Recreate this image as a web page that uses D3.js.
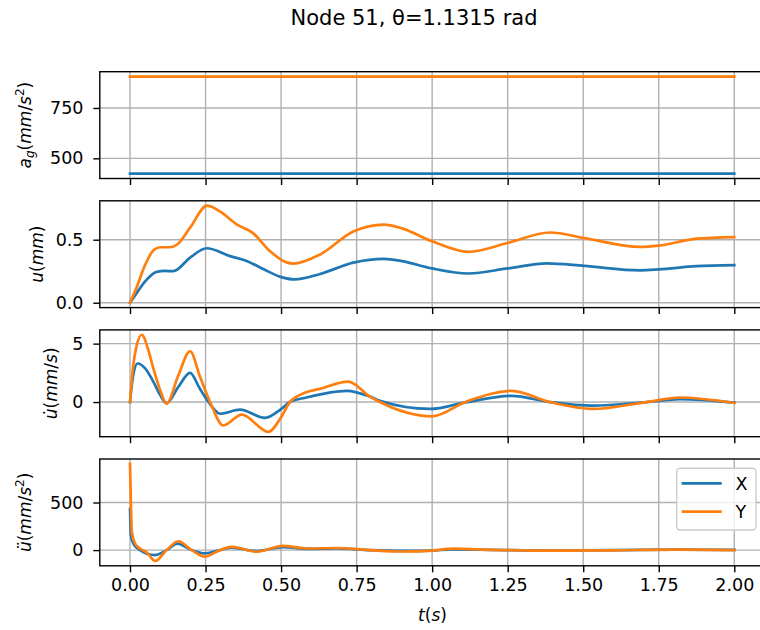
<!DOCTYPE html>
<html lang="en">
<head>
<meta charset="UTF-8" />
<title>Node 51</title>
<style>
  body { margin: 0; background: #fff; }
  svg text { font-family: "DejaVu Sans", sans-serif; fill: #000; }
</style>
</head>
<body>
<div id="chart"></div>
<script src="https://d3js.org/d3.v7.min.js"></script>
<script>
// ---- data (t in s, value) ----
const xTicks = [0, 0.25, 0.5, 0.75, 1.0, 1.25, 1.5, 1.75, 2.0];
const seriesNames = ["X", "Y"];

// ground acceleration a_g (mm/s^2)
const agX = [[0, 424], [2, 424]];
const agY = [[0, 906], [2, 906]];
const agTicks = [500, 750];

// displacement u (mm)
const uX = [[0,0],[0.02,0.07],[0.05,0.17],[0.088,0.245],[0.115,0.252],[0.143,0.25],[0.2,0.36],[0.254,0.432],
  [0.331,0.37],[0.386,0.332],[0.441,0.267],[0.496,0.207],[0.545,0.185],[0.629,0.228],[0.739,0.318],[0.84,0.348],
  [0.9,0.33],[1.0,0.272],[1.12,0.232],[1.25,0.272],[1.38,0.312],[1.503,0.292],[1.688,0.257],[1.75,0.264],
  [1.875,0.29],[2.0,0.298]];
const uY = [[0,0],[0.02,0.11],[0.05,0.3],[0.077,0.415],[0.099,0.44],[0.132,0.44],[0.155,0.46],[0.2,0.6],
  [0.255,0.77],[0.3,0.72],[0.353,0.622],[0.408,0.55],[0.463,0.41],[0.518,0.32],[0.54,0.311],[0.629,0.383],
  [0.739,0.565],[0.84,0.62],[0.9,0.59],[1.0,0.487],[1.12,0.404],[1.25,0.474],[1.39,0.557],[1.503,0.513],
  [1.688,0.443],[1.75,0.453],[1.875,0.508],[2.0,0.521]];
const uTicks = [0, 0.5];

// velocity u' (mm/s)
const vX = [[0,0],[0.01,2.2],[0.025,3.3],[0.05,2.88],[0.077,1.75],[0.1,0.6],[0.121,-0.1],[0.16,1.3],[0.199,2.5],
  [0.23,1.2],[0.26,0],[0.298,-1.0],[0.364,-0.65],[0.447,-1.36],[0.5,-0.6],[0.529,0],[0.584,0.39],[0.717,0.96],
  [0.794,0.47],[0.827,0.11],[0.993,-0.59],[1.114,0],[1.263,0.53],[1.39,0],[1.533,-0.31],[1.71,0],[1.82,0.25],
  [2.0,-0.05]];
const vY = [[0,0],[0.01,3.0],[0.02,4.6],[0.039,5.76],[0.06,4.5],[0.077,2.9],[0.1,1.0],[0.121,-0.14],[0.16,2.3],
  [0.199,4.35],[0.23,2.3],[0.265,0],[0.309,-2.0],[0.37,-1.08],[0.458,-2.55],[0.5,-1.3],[0.529,0],[0.568,0.68],
  [0.629,1.13],[0.722,1.75],[0.794,0.47],[0.827,0],[1.0,-1.22],[1.114,0.05],[1.263,0.96],[1.39,0],[1.533,-0.59],
  [1.71,0],[1.82,0.39],[2.0,-0.08]];
const vTicks = [0, 5];

// acceleration u'' (mm/s^2)
const aX = [[0,431],[0.003,155],[0.011,69],[0.033,0],[0.083,-52],[0.121,0],[0.157,69],[0.204,0],[0.248,-34],
  [0.29,-5],[0.336,25],[0.419,-10],[0.507,32],[0.585,12],[0.684,18],[0.794,0],[0.9,-8],[1.0,-6],[1.06,8],
  [1.2,3],[1.4,-4],[1.6,0],[1.8,4],[2.0,2]];
const aY = [[0,906],[0.003,466],[0.006,190],[0.017,69],[0.033,17],[0.055,-24],[0.083,-114],[0.121,0],[0.16,93],
  [0.204,0],[0.248,-69],[0.287,-17],[0.336,34],[0.419,-17],[0.507,45],[0.585,17],[0.684,22],[0.794,0],[0.9,-15],
  [1.0,-5],[1.07,15],[1.2,3],[1.4,-6],[1.6,-2],[1.8,5],[2.0,0]];
const aTicks = [0, 500];

// ---- layout ----
const W = 760, H = 630;
const left = 99.8, right = 764.5;
const tops = [71.7, 200.8, 329.9, 459];
const ph = 106.8;
const colors = ["#1f77b4", "#ff7f0e"];
const fs = 17.5;

const svg = d3.select("#chart").append("svg")
  .attr("width", W).attr("height", H);

svg.append("text")
  .attr("x", 414).attr("y", 24.5)
  .attr("text-anchor", "middle")
  .style("font-size", "21px")
  .text("Node 51, \u03b8=1.1315 rad");

const x = d3.scaleLinear().domain([-0.1, 2.1]).range([left, right]);

const panels = [
  { series: [agX, agY], ticks: agTicks, fmt: d3.format("d"), lx: 30.5 },
  { series: [uX, uY], ticks: uTicks, fmt: d3.format(".1f"), lx: 42.7 },
  { series: [vX, vY], ticks: vTicks, fmt: d3.format("d"), lx: 57 },
  { series: [aX, aY], ticks: aTicks, fmt: d3.format("d"), lx: 31 }
];

panels.forEach(function (p, i) {
  const top = tops[i], bot = top + ph;
  const all = p.series[0].concat(p.series[1]).map(d => d[1]);
  const lo = d3.min(all), hi = d3.max(all);
  const pad = (hi - lo) * 0.05;
  const y = d3.scaleLinear().domain([lo - pad, hi + pad]).range([bot, top]);

  const g = svg.append("g");

  // grid
  g.selectAll(".gx").data(xTicks).enter().append("line")
    .attr("x1", d => x(d)).attr("x2", d => x(d))
    .attr("y1", top).attr("y2", bot)
    .attr("stroke", "#b0b0b0").attr("stroke-width", 1.4);
  g.selectAll(".gy").data(p.ticks).enter().append("line")
    .attr("x1", left).attr("x2", right)
    .attr("y1", d => y(d)).attr("y2", d => y(d))
    .attr("stroke", "#b0b0b0").attr("stroke-width", 1.4);

  // lines
  const line = d3.line()
    .x(d => x(d[0])).y(d => y(d[1]))
    .curve(d3.curveMonotoneX);
  p.series.forEach(function (s, k) {
    g.append("path").datum(s)
      .attr("d", line)
      .attr("fill", "none")
      .attr("stroke", colors[k])
      .attr("stroke-width", 2.7)
      .attr("stroke-linecap", "square")
      .attr("stroke-linejoin", "round");
  });

  // axes
  const ax = g.append("g").attr("transform", "translate(0," + bot + ")")
    .call(d3.axisBottom(x).tickValues(xTicks).tickSize(6.5).tickPadding(6.5)
      .tickFormat(i === 3 ? d3.format(".2f") : () => ""));
  const ay = g.append("g").attr("transform", "translate(" + left + ",0)")
    .call(d3.axisLeft(y).tickValues(p.ticks).tickSize(6.5).tickPadding(9.8).tickFormat(p.fmt));
  [ax, ay].forEach(a => {
    a.select(".domain").remove();
    a.selectAll("line").attr("stroke", "#000").attr("stroke-width", 1.4);
    a.selectAll("text").style("font-size", fs + "px").attr("fill", "#000")
      .style("font-family", "DejaVu Sans, sans-serif");
  });

  // frame
  g.append("rect")
    .attr("x", left).attr("y", top)
    .attr("width", right - left).attr("height", ph)
    .attr("fill", "none").attr("stroke", "#000").attr("stroke-width", 1.4);

  // y label
  const lab = g.append("text")
    .attr("transform", "translate(" + p.lx + "," + (top + ph / 2) + ") rotate(-90)")
    .attr("text-anchor", "middle")
    .style("font-size", "17px");
  const it = (t) => lab.append("tspan").style("font-style", "italic").text(t);
  const up = (t) => lab.append("tspan").text(t);
  if (i === 0) {
    it("a");
    lab.append("tspan").style("font-style", "italic").style("font-size", "12px").attr("dy", 3).text("g");
    lab.append("tspan").attr("dy", -3).text("(");
    it("mm"); up("/"); it("s");
    lab.append("tspan").style("font-size", "12px").attr("dy", -7).text("2");
    lab.append("tspan").attr("dy", 7).text(")");
  } else if (i === 1) {
    it("u"); up("("); it("mm"); up(")");
  } else if (i === 2) {
    it("u\u0307"); up("("); it("mm"); up("/"); it("s"); up(")");
  } else {
    it("\u00fc"); up("("); it("mm"); up("/"); it("s");
    lab.append("tspan").style("font-size", "12px").attr("dy", -7).text("2");
    lab.append("tspan").attr("dy", 7).text(")");
  }
});

// x label
const xl = svg.append("text")
  .attr("x", 432.5).attr("y", 621)
  .attr("text-anchor", "middle")
  .style("font-size", "17px");
xl.append("tspan").style("font-style", "italic").text("t");
xl.append("tspan").text("(");
xl.append("tspan").style("font-style", "italic").text("s");
xl.append("tspan").text(")");

// legend
const lg = svg.append("g");
lg.append("rect")
  .attr("x", 676.7).attr("y", 468.3).attr("width", 79.3).attr("height", 61.7)
  .attr("rx", 3.5)
  .attr("fill", "#fff").attr("fill-opacity", 0.8)
  .attr("stroke", "#cccccc").attr("stroke-width", 1.4);
seriesNames.forEach(function (n, k) {
  const yy = 483.3 + k * 28.4;
  lg.append("line")
    .attr("x1", 683).attr("x2", 720.4)
    .attr("y1", yy).attr("y2", yy)
    .attr("stroke", colors[k]).attr("stroke-width", 2.7)
    .attr("stroke-linecap", "square");
  lg.append("text")
    .attr("x", 735.5).attr("y", yy + 6.6)
    .style("font-size", fs + "px")
    .text(n);
});
</script>
</body>
</html>
